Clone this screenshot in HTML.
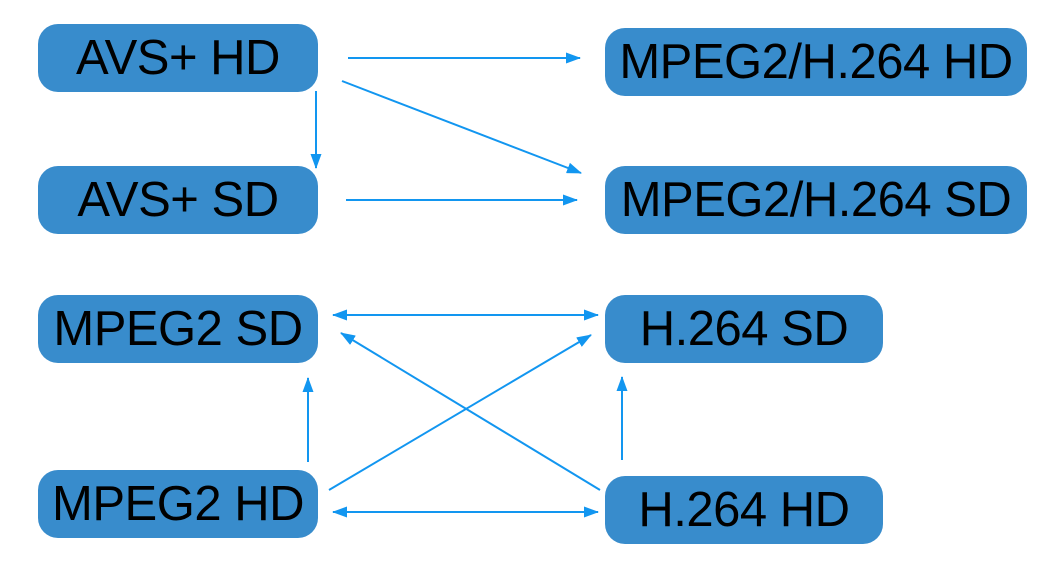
<!DOCTYPE html>
<html><head><style>
body{margin:0;width:1050px;height:574px;background:#fff;position:relative;overflow:hidden;font-family:"Liberation Sans",Arial,sans-serif}
.b{position:absolute;background:#388ccc;border-radius:20px;color:#000;font-size:49px;display:flex;align-items:center;justify-content:center;height:68px;letter-spacing:-0.5px}
svg{position:absolute;left:0;top:0}
</style></head><body>
<div class="b" style="left:38px;top:24px;width:280px">AVS+ HD</div>
<div class="b" style="left:605px;top:28px;width:422px">MPEG2/H.264 HD</div>
<div class="b" style="left:38px;top:166px;width:280px">AVS+ SD</div>
<div class="b" style="left:605px;top:166px;width:422px">MPEG2/H.264 SD</div>
<div class="b" style="left:38px;top:295px;width:280px">MPEG2 SD</div>
<div class="b" style="left:605px;top:295px;width:278px">H.264 SD</div>
<div class="b" style="left:38px;top:470px;width:280px">MPEG2 HD</div>
<div class="b" style="left:605px;top:476px;width:278px">H.264 HD</div>
<svg width="1050" height="574">
<defs><marker id="a" markerWidth="15" markerHeight="11" refX="14" refY="5.5" orient="auto-start-reverse" markerUnits="userSpaceOnUse"><path d="M0,0L15,5.5L0,11z" fill="#1296f0"/></marker></defs>
<g stroke="#1296f0" stroke-width="2" fill="none">
<line x1="348" y1="58" x2="580" y2="58" marker-end="url(#a)"/>
<line x1="342" y1="81" x2="581" y2="173" marker-end="url(#a)"/>
<line x1="316" y1="91" x2="316" y2="168" marker-end="url(#a)"/>
<line x1="346" y1="200" x2="577" y2="200" marker-end="url(#a)"/>
<line x1="333" y1="315" x2="598" y2="315" marker-start="url(#a)" marker-end="url(#a)"/>
<line x1="600" y1="490" x2="341" y2="333" marker-end="url(#a)"/>
<line x1="329" y1="490" x2="591" y2="335" marker-end="url(#a)"/>
<line x1="308" y1="462" x2="308" y2="378" marker-end="url(#a)"/>
<line x1="622" y1="460" x2="622" y2="377" marker-end="url(#a)"/>
<line x1="333" y1="512" x2="598" y2="512" marker-start="url(#a)" marker-end="url(#a)"/>
</g></svg>
</body></html>
